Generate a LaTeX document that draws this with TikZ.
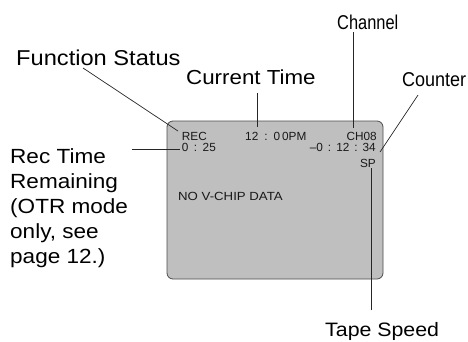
\documentclass[tikz,border=0pt]{standalone}
\usepackage{fontspec}
\setmainfont{Liberation Sans}
\newfontfamily\lblfont[FakeStretch=1.1]{Liberation Sans}
\begin{document}
\begin{tikzpicture}[x=1pt,y=-1pt,
  lbl/.style={inner sep=0pt, anchor=base west, font=\lblfont\fontsize{#1}{25}\selectfont},
  nlbl/.style={inner sep=0pt, anchor=base west, font=\fontsize{#1}{25}\selectfont},
  osd/.style={inner sep=0pt, anchor=base west, text=black!90, font=\fontsize{11.8}{13}\selectfont},
  screen/.style={draw=black!70, line width=0.8pt, fill=black!25, rounded corners=6pt, inner sep=0pt},
  leader/.style={draw=black!85, line width=0.7pt}]
\useasboundingbox (0,0) rectangle (468,341);
% screen
\node[screen, minimum width=216pt, minimum height=158pt] (scr) at (275,200) {};
% on-screen text
\node[osd] (rec) at (181.7,140) {REC};
\node[osd] (ctime) at (245,140) {12\hspace{6pt}:\hspace{6pt}0\hspace{2pt}0PM};
\node[osd, anchor=base east] (chn) at (377,140) {CH08};
\node[osd] (rem) at (181.7,151) {0\hspace{5.5pt}:\hspace{5.5pt}25};
\node[osd, anchor=base east] (cnt) at (376,151) {--0\hspace{5pt}:\hspace{5pt}12\hspace{5pt}:\hspace{5pt}34};
\node[osd, anchor=base east] (sp) at (376,167.7) {SP};
\node[osd] (vchip) at (178,200.7) {\scalebox{1.12}[1]{NO V-CHIP DATA}};
% labels
\node[lbl=21.5] (fs) at (16,65) {Function Status};
\node[lbl=20.3] (ct) at (186,84) {Current Time};
\node[nlbl=20] (ch) at (337,29) {\scalebox{0.82}[1]{Channel}};
\node[nlbl=20] (cn) at (402,86) {\scalebox{0.9}[1]{Counter}};
\node[lbl=19.4] (ts) at (325,336) {Tape Speed};
\node[lbl=20.5] (rt1) at (10,163.3) {Rec Time};
\node[lbl=20.5] (rt2) at (10,188.3) {Remaining};
\node[lbl=20.5] (rt3) at (10,213.3) {(OTR mode};
\node[lbl=20.5] (rt4) at (10,238.3) {only, see};
\node[lbl=20.5] (rt5) at (10,263.3) {page 12.)};
% leader ends
\coordinate (fsA) at (83,68);   \coordinate (fsB) at (178,131);
\coordinate (ctA) at (257,93);  \coordinate (ctB) at (257,127);
\coordinate (chA) at (353,32);  \coordinate (chB) at (353,128);
\coordinate (cnA) at (418,95);  \coordinate (cnB) at (380,152);
\coordinate (rtA) at (132,149); \coordinate (rtB) at (180,149);
\coordinate (tsA) at (371,310); \coordinate (tsB) at (371,168);
\draw[leader] (fsA) -- (fsB);
\draw[leader] (ctA) -- (ctB);
\draw[leader] (chA) -- (chB);
\draw[leader] (cnA) -- (cnB);
\draw[leader] (rtA) -- (rtB);
\draw[leader] (tsA) -- (tsB);
\end{tikzpicture}
\end{document}
